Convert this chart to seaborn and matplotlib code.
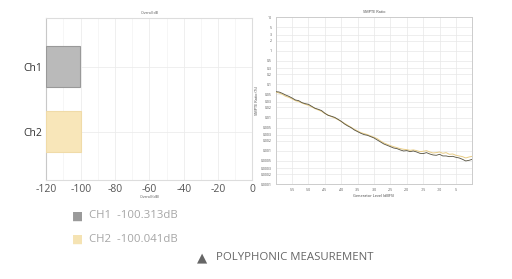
import matplotlib
matplotlib.use("Agg")
import matplotlib.pyplot as plt
import matplotlib.ticker as mticker
import seaborn as sns
import pandas as pd
import numpy as np

# ---- data ----
channels = ["Ch1", "Ch2"]
overall_db = [-100.313, -100.041]
bar_floor = -120
overall_ticks = [-120, -100, -80, -60, -40, -20, 0]

gen_level = list(range(-60, 1))
ratio_ch1 = [0.0595, 0.0581, 0.0530, 0.0473, 0.0431, 0.0384, 0.0335, 0.0320, 0.0279, 0.0260,
             0.0248, 0.0216, 0.0189, 0.0176, 0.0161, 0.0134, 0.0116, 0.0109, 0.0101, 0.00883,
             0.00769, 0.00640, 0.00558, 0.00497, 0.00423, 0.00377, 0.00336, 0.00307, 0.00293, 0.00267,
             0.00244, 0.00212, 0.00185, 0.00161, 0.00147, 0.00134, 0.00122, 0.00117, 0.00107, 0.000995,
             0.00102, 0.000951, 0.000995, 0.000929, 0.000847, 0.000829, 0.000888, 0.000810, 0.000756, 0.000739,
             0.000791, 0.000706, 0.000706, 0.000673, 0.000689, 0.000643, 0.000614, 0.000560, 0.000500, 0.000523,
             0.000560]
ratio_ch2 = [0.0581, 0.0542, 0.0495, 0.0431, 0.0402, 0.0359, 0.0320, 0.0299, 0.0272, 0.0248,
             0.0232, 0.0207, 0.0184, 0.0168, 0.0153, 0.0131, 0.0119, 0.0106, 0.00968, 0.00863,
             0.00752, 0.00670, 0.00584, 0.00509, 0.00443, 0.00395, 0.00352, 0.00329, 0.00307, 0.00280,
             0.00255, 0.00233, 0.00198, 0.00173, 0.00158, 0.00144, 0.00134, 0.00125, 0.00117, 0.00112,
             0.00109, 0.00104, 0.00107, 0.00102, 0.000951, 0.000973, 0.00102, 0.000929, 0.000867, 0.000888,
             0.000929, 0.000847, 0.000888, 0.000791, 0.000810, 0.000739, 0.000706, 0.000673, 0.000614, 0.000658,
             0.000689]
ratio_ticks = [10, 5, 3, 2, 1, 0.5, 0.3, 0.2, 0.1, 0.05, 0.03, 0.02, 0.01, 0.005, 0.003, 0.002,
               0.001, 0.0005, 0.0003, 0.0002, 0.0001]
ratio_tick_labels = ["10", "5", "3", "2", "1", "0.5", "0.3", "0.2", "0.1", "0.05", "0.03", "0.02",
                     "0.01", "0.005", "0.003", "0.002", "0.001", "0.0005", "0.0003", "0.0002", "0.0001"]
level_ticks = list(range(-55, 0, 5))

legend_lines = ["CH1  -100.313dB", "CH2  -100.041dB"]
footer = "POLYPHONIC MEASUREMENT"

bar_colors = ["#bababa", "#f8e6b9"]
bar_edges = ["#999999", "#f0dba8"]
line_colors = {"Ch1": "#55513f", "Ch2": "#e8cc85"}

# ---- style ----
sns.set_theme(style="white")
plt.rcParams["font.family"] = ["Open Sans", "DejaVu Sans"]

fig = plt.figure(figsize=(5.12, 2.79), dpi=100)
fig.patch.set_facecolor("white")

# ---- left: horizontal bars ----
ax1 = fig.add_axes([0.0904, 0.3548, 0.4027, 0.5806])
ypos = np.arange(len(channels))
widths = [v - bar_floor for v in overall_db]
ax1.barh(ypos, widths, left=bar_floor, height=0.63, color=bar_colors,
         edgecolor=bar_edges, linewidth=0.8, zorder=3)
ax1.set_xlim(-120, 0)
ax1.set_ylim(1.74, -0.75)
ax1.set_yticks(ypos)
ax1.set_yticklabels(channels, fontsize=7.5, color="#333333")
ax1.set_xticks(overall_ticks)
ax1.set_xticklabels([str(t) for t in overall_ticks], fontsize=7.5, color="#555555")
ax1.xaxis.set_minor_locator(mticker.MultipleLocator(10))
ax1.grid(True, which="major", axis="both", color="#ececec", linewidth=0.6, zorder=0)
ax1.grid(True, which="minor", axis="x", color="#f3f3f3", linewidth=0.5, zorder=0)
ax1.tick_params(axis="both", which="both", length=0, pad=3)
for s in ax1.spines.values():
    s.set_color("#dddddd")
    s.set_linewidth(0.8)
ax1.spines["left"].set_color("#c8c8c8")
ax1.set_title("Overall dB", fontsize=2.5, color="#555555", pad=3)
ax1.set_xlabel("Overall (dB)", fontsize=2.5, color="#555555", labelpad=0)

# ---- right: log line chart ----
ax2 = fig.add_axes([0.5385, 0.3394, 0.384, 0.5986])
df = pd.DataFrame({
    "level": gen_level * 2,
    "ratio": ratio_ch1 + ratio_ch2,
    "channel": ["Ch1"] * len(gen_level) + ["Ch2"] * len(gen_level),
})
sns.lineplot(data=df[df.channel == "Ch2"], x="level", y="ratio", color=line_colors["Ch2"],
             linewidth=0.7, ax=ax2, zorder=3)
sns.lineplot(data=df[df.channel == "Ch1"], x="level", y="ratio", color=line_colors["Ch1"],
             linewidth=0.6, ax=ax2, zorder=4)
ax2.set_yscale("log")
ax2.set_ylim(0.0001, 10)
ax2.set_xlim(-60, 0)
ax2.yaxis.set_major_locator(mticker.FixedLocator(ratio_ticks))
ax2.yaxis.set_major_formatter(mticker.FixedFormatter(ratio_tick_labels))
ax2.yaxis.set_minor_locator(mticker.NullLocator())
ax2.set_xticks(level_ticks)
ax2.set_xticklabels([str(t) for t in level_ticks])
ax2.tick_params(axis="both", labelsize=2.5, labelcolor="#555555", length=1.5, width=0.4,
                color="#aaaaaa", pad=1.5)
ax2.grid(True, which="major", axis="both", color="#e8e8e8", linewidth=0.5, zorder=0)
for s in ax2.spines.values():
    s.set_color("#cccccc")
    s.set_linewidth(0.7)
ax2.set_title("SMPTE Ratio", fontsize=2.8, color="#444444", pad=3)
ax2.set_xlabel("Generator Level (dBFS)", fontsize=2.8, color="#444444", labelpad=1)
ax2.set_ylabel("SMPTE Ratio (%)", fontsize=2.8, color="#444444", labelpad=1)
if ax2.get_legend() is not None:
    ax2.get_legend().remove()

# ---- bottom legend texts ----
fig.text(71.5 / 512, 1 - 216 / 279, "\u25A0", fontsize=8.5, color="#9a9a9a",
         va="center", ha="left", family=["DejaVu Sans"])
fig.text(89 / 512, 1 - 216 / 279, legend_lines[0], fontsize=8.2, color="#a6a6a6",
         va="center", ha="left")
fig.text(71.5 / 512, 1 - 239 / 279, "\u25A0", fontsize=8.5, color="#f5e3b3",
         va="center", ha="left", family=["DejaVu Sans"])
fig.text(89 / 512, 1 - 239 / 279, legend_lines[1], fontsize=8.2, color="#a6a6a6",
         va="center", ha="left")
fig.text(196.5 / 512, 1 - 257.5 / 279, "\u25B2", fontsize=9.5, color="#666666",
         va="center", ha="left", family=["DejaVu Sans"])
fig.text(215.5 / 512, 1 - 257.5 / 279, footer, fontsize=8.2, color="#666666",
         va="center", ha="left")

fig.savefig("out.png", dpi=100, facecolor="white")
